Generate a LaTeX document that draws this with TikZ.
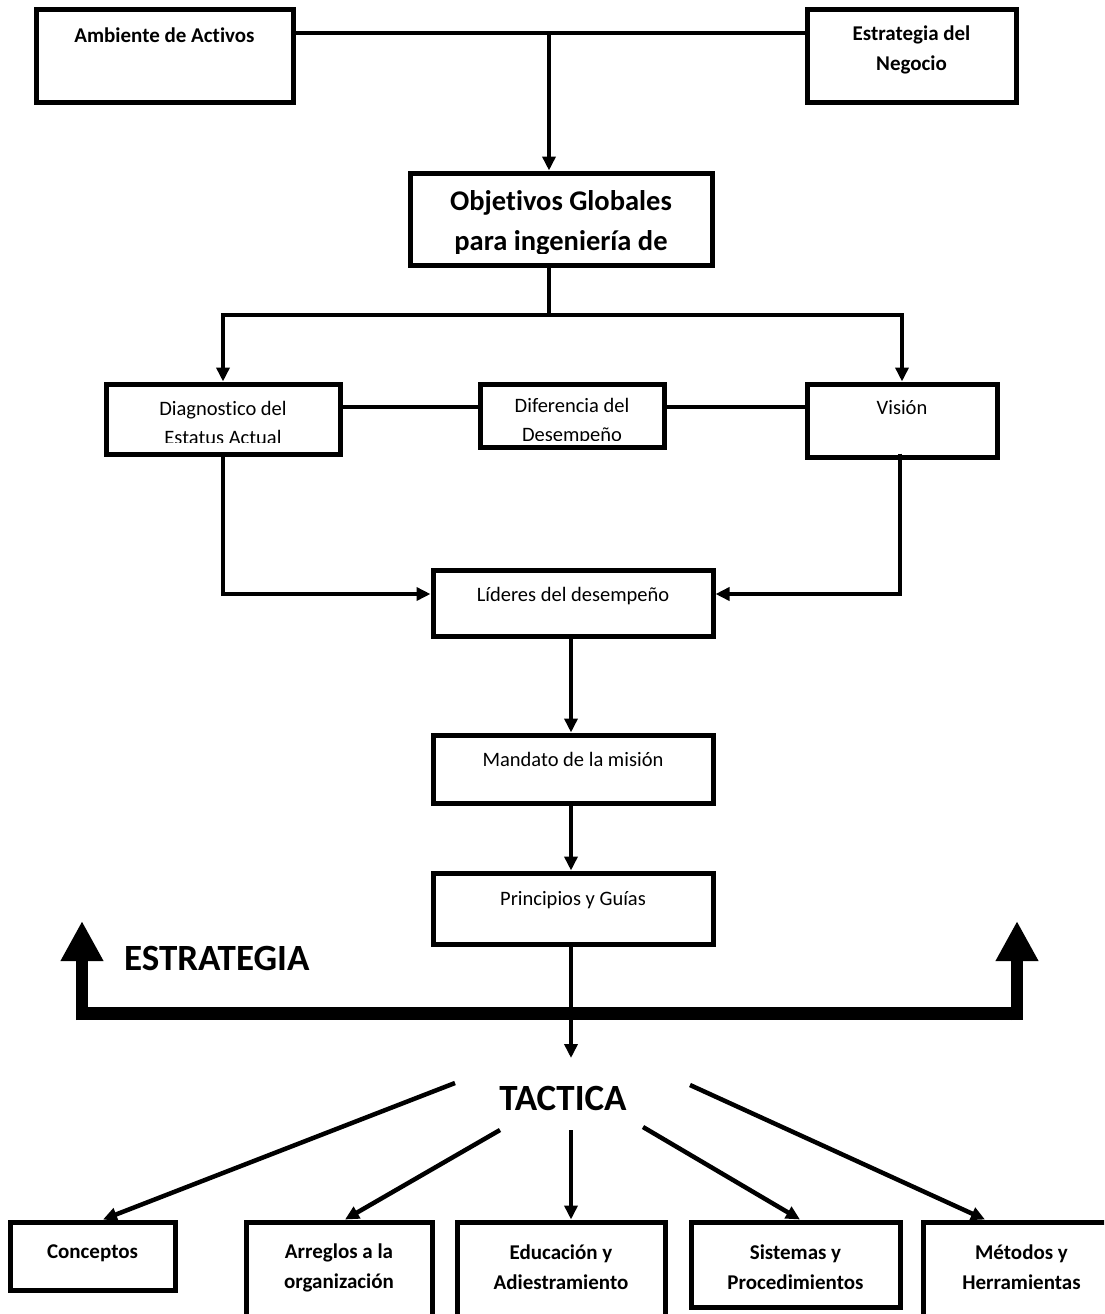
\documentclass[tikz,border=0pt]{standalone}
\usepackage{fontspec}
\setmainfont{Carlito}[Ligatures=NoCommon]
\usetikzlibrary{arrows.meta,calc}

% text placed inside a box, clipped to the inner area of its frame
% #1 box name, #2 offset of the text centre below the frame,
% #3 text style, #4 text, #5 bottom inset of the clipping area
\newcommand\boxtext[5]{%
  \begin{scope}
    \clip ([shift={(5,5)}]#1.north west) rectangle ([shift={(-5,-#5)}]#1.south east);
    \node[#3, align=center, inner sep=0pt] (#1 text) at ([yshift=-#2-2.5]#1.north) {#4};
  \end{scope}}

\begin{document}
\begin{tikzpicture}[x=1pt,y=-1pt,
  box/.style={draw, line width=5pt, inner sep=0pt},
  link/.style={line width=4pt},
  flow/.style={link, -{Triangle[length=14pt,width=13pt]}},
  bigarrow/.style={line width=12pt, -{Triangle[length=40pt,width=40pt]}},
  tb/.style={font=\fontsize{21}{30}\selectfont\bfseries},
  tn/.style={font=\fontsize{20.5}{29}\selectfont},
  tbig/.style={font=\fontsize{28.5}{40}\selectfont\bfseries},
  thead/.style={font=\fontsize{37}{40}\selectfont\bfseries},
]
\useasboundingbox (0,0) rectangle (1104,1314);
\clip (0,0) rectangle (1104,1314);

% boxes
\node[box, minimum width=257, minimum height=92] (amb) at (164.5,56) {};
\node[box, minimum width=209, minimum height=92] (est) at (911.5,56) {};
\node[box, minimum width=302, minimum height=92] (obj) at (561,219) {};
\node[box, minimum width=234, minimum height=70] (diag) at (223,419) {};
\node[box, minimum width=184, minimum height=63] (dif) at (572,415.5) {};
\node[box, minimum width=190, minimum height=73] (vis) at (902,420.5) {};
\node[box, minimum width=280, minimum height=66] (lid) at (573,603) {};
\node[box, minimum width=280, minimum height=68] (man) at (573,769) {};
\node[box, minimum width=280, minimum height=71] (pri) at (573,908.5) {};
\node[box, minimum width=165, minimum height=68] (con) at (92.5,1256) {};
\node[box, minimum width=186, minimum height=118] (org) at (339,1281) {};
\node[box, minimum width=208, minimum height=118] (edu) at (561,1281) {};
\node[box, minimum width=209, minimum height=85] (sis) at (795.5,1264.5) {};
\node[box, minimum width=197, minimum height=118] (met) at (1021.5,1281) {};

% box texts
\boxtext{amb}{25}{tb}{Ambiente de Activos}{5}
\boxtext{est}{40}{tb}{Estrategia del\\Negocio}{5}
\boxtext{obj}{50}{tbig}{Objetivos Globales\\para ingeniería de}{14.5}
\boxtext{diag}{38.5}{tn}{Diagnostico del\\Estatus Actual}{14.5}
\boxtext{dif}{38}{tn}{Diferencia del\\Desempeño}{9.5}
\boxtext{vis}{24}{tn}{Visión}{5}
\boxtext{lid}{26}{tn}{Líderes del desempeño}{5}
\boxtext{man}{24}{tn}{Mandato de la misión}{5}
\boxtext{pri}{27}{tn}{Principios y Guías}{5}
\boxtext{con}{31}{tb}{Conceptos}{5}
\boxtext{org}{45.5}{tb}{Arreglos a la\\organización}{5}
\boxtext{edu}{45.5}{tb}{Educación y\\Adiestramiento}{5}
\boxtext{sis}{45.5}{tb}{Sistemas y\\Procedimientos}{5}
\boxtext{met}{45.5}{tb}{Métodos y\\Herramientas}{5}

% headings
\node[thead, anchor=west, inner sep=0pt] (estr) at (124,958) {ESTRATEGIA};
\node[thead, inner sep=0pt] (tac) at (563,1098) {TACTICA};

% upper connectors
\coordinate (join) at (549,33);
\draw[link] ([yshift=23]amb.east) -- ([yshift=23]est.west);
\draw[flow] (join) -- (join |- obj.north);
\coordinate (split) at (549,315);
\draw[link] (obj.south -| split) -- (split);
\draw[flow] (split) -| (diag.north);
\draw[flow] (split) -| (vis.north);
\draw[link] (diag.east |- 0,407) -- (dif.west |- 0,407);
\draw[link] (dif.east |- 0,407) -- (vis.west |- 0,407);
\draw[flow] (diag.south) |- ([yshift=9]lid.west);
\draw[flow] ([xshift=-2,yshift=6]vis.south) |- ([yshift=9]lid.east);
\draw[flow] (lid.south -| 571,0) -- (man.north -| 571,0);
\draw[flow] (man.south -| 571,0) -- (pri.north -| 571,0);
\coordinate (tacin) at (571,1058);
\draw[flow] (pri.south -| tacin) -- (tacin);

% strategy bar with its two upward arrows
\coordinate (barL) at (82,1013.5);
\coordinate (barR) at (1017,1013.5);
\coordinate (tipL) at (82,921);
\coordinate (tipR) at (1017,921);
\draw[line width=13pt] (barL) -- (barR);
\draw[bigarrow] ([yshift=-6.5]barL) -- (tipL);
\draw[bigarrow] ([yshift=-6.5]barR) -- (tipR);

% tactical branches
\coordinate (c1) at (455,1083);
\coordinate (c2) at (500,1130);
\coordinate (c3) at (571,1130);
\coordinate (c4) at (643,1127);
\coordinate (c5) at (690,1085);
\draw[flow, line width=4.5pt] (c1) -- (con.north -| 103,0);
\draw[flow, line width=4.5pt] (c2) -- (org.north -| 345,0);
\draw[flow] (c3) -- (edu.north -| c3);
\draw[flow, line width=4.5pt] (c4) -- (sis.north -| 800,0);
\draw[flow, line width=4.5pt] (c5) -- (met.north -| 985,0);
\end{tikzpicture}
\end{document}
